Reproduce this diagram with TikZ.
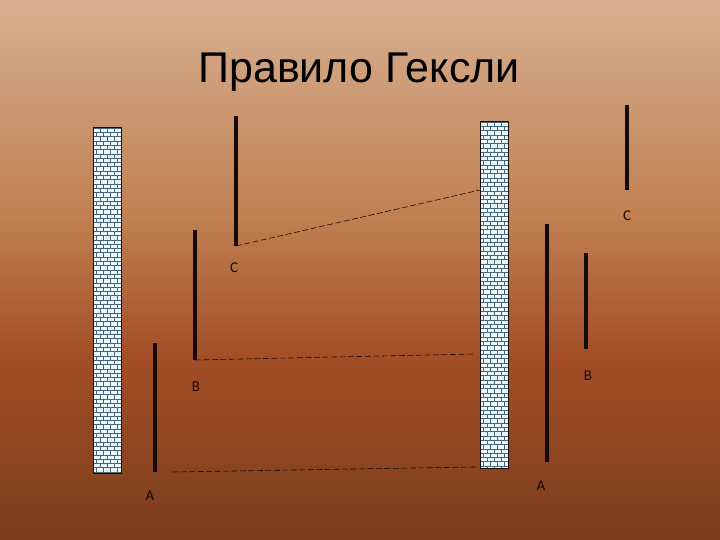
\documentclass[tikz,border=0pt]{standalone}
\usepackage{fontspec}
\setmainfont{Liberation Sans}
\newfontfamily\labfont{Carlito}
\definecolor{bgtop}{RGB}{215,175,145}
\definecolor{bgmid}{RGB}{192,128,82}
\definecolor{bglow}{RGB}{163,78,38}
\definecolor{bgbot}{RGB}{122,62,28}
\definecolor{barcol}{RGB}{22,10,6}
\definecolor{brickfill}{RGB}{235,248,252}
\definecolor{brickline}{RGB}{70,100,120}
\pgfdeclareverticalshading{bgshade}{100bp}{color(0bp)=(bgbot); color(25bp)=(bgbot); color(42bp)=(bglow); color(55bp)=(bgmid); color(75bp)=(bgtop); color(100bp)=(bgtop)}
\tikzset{
  bar/.style={line width=3.5pt, draw=barcol},
  lab/.style={font=\labfont\fontsize{15}{15}\selectfont, text=barcol, inner sep=0pt, anchor=base},
  link/.style={draw=barcol, line width=0.6pt, dash pattern=on 6pt off 2.5pt},
  wallframe/.style={draw=barcol, line width=1pt}
}
\newcommand{\brickwall}[4]{% x1 y1 x2 y2
  \begin{scope}
    \clip (#1,#2) rectangle (#3,#4);
    \fill[brickfill] (#1,#2) rectangle (#3,#4);
    \pgfmathsetmacro{\nrows}{int(((#4)-(#2))/4.3)+1}
    \foreach \r in {0,...,\nrows}{
      \pgfmathsetmacro{\yy}{#2+\r*4.3}
      \draw[brickline, line width=0.45pt] (#1,\yy) -- (#3,\yy);
      \pgfmathsetmacro{\off}{mod(\r,2)*3.5}
      \foreach \k in {0,...,4}{
        \pgfmathsetmacro{\xx}{#1+\off+\k*7}
        \draw[brickline, line width=0.45pt] (\xx,\yy) -- (\xx,\yy+4.3);
      }
    }
  \end{scope}
  \draw[wallframe] (#1,#2) rectangle (#3,#4);
}
\begin{document}
\begin{tikzpicture}[x=1pt,y=-1pt]
\useasboundingbox (0,0) rectangle (720,540);
\shade[shading=bgshade] (0,0) rectangle (720,540);
% title
\node[font=\fontsize{43}{43}\selectfont, text=black, anchor=base, inner sep=0pt] (title) at (359,83) {Правило Гексли};
% walls
\brickwall{93}{128}{121}{473}
\brickwall{480}{122}{508}{468}
% left bars
\coordinate (lAt) at (155,343); \coordinate (lAb) at (155,472);
\coordinate (lBt) at (195,230); \coordinate (lBb) at (195,360);
\coordinate (lCt) at (236,116); \coordinate (lCb) at (236,246);
\draw[bar] (lAt) -- (lAb);
\draw[bar] (lBt) -- (lBb);
\draw[bar] (lCt) -- (lCb);
% right bars
\coordinate (rAt) at (547,224); \coordinate (rAb) at (547,462);
\coordinate (rBt) at (586,253); \coordinate (rBb) at (586,349);
\coordinate (rCt) at (627,105); \coordinate (rCb) at (627,190);
\draw[bar] (rAt) -- (rAb);
\draw[bar] (rBt) -- (rBb);
\draw[bar] (rCt) -- (rCb);
% labels
\node[lab] (labLA) at (150,500) {A};
\node[lab] (labLB) at (196,391) {B};
\node[lab] (labLC) at (234,272) {C};
\node[lab] (labRA) at (541,490) {A};
\node[lab] (labRB) at (588,380) {B};
\node[lab] (labRC) at (627,221) {C};
% connection points on right wall
\coordinate (wC) at (480,190);
\coordinate (wB) at (475,354);
\coordinate (wA) at (475,467);
\coordinate (lAs) at (172,472);
\draw[link] (lCb) -- (wC);
\draw[link] (lBb) -- (wB);
\draw[link] (lAs) -- (wA);
\end{tikzpicture}
\end{document}
